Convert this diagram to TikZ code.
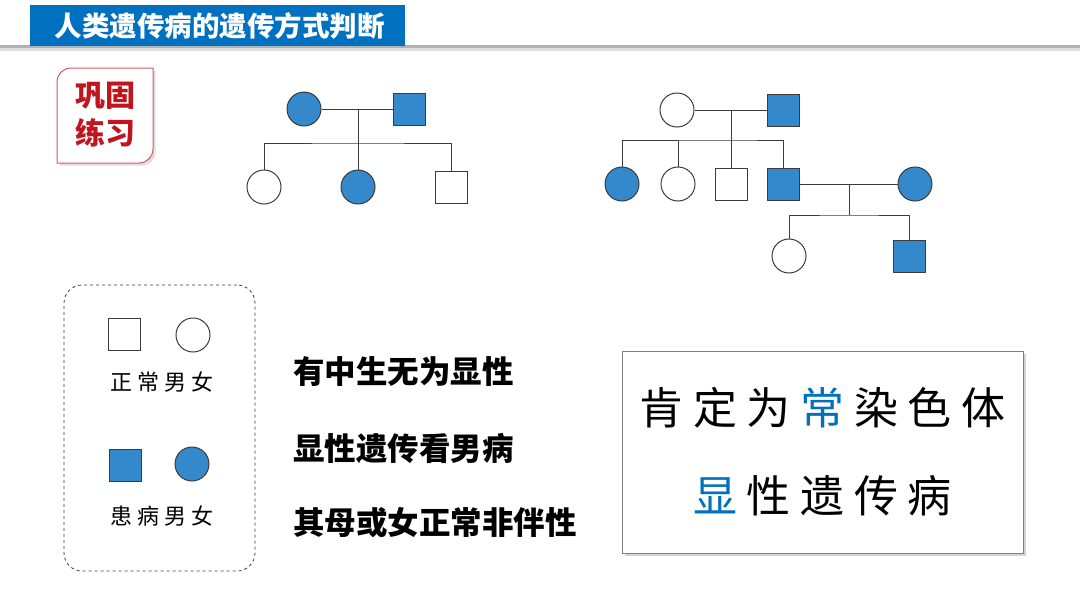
\documentclass[tikz,border=0pt]{standalone}
\usepackage{fontspec}
\setmainfont{Noto Sans CJK SC}
\newfontfamily\spacedfont[LetterSpace=22]{Noto Sans CJK SC}
\usepackage{xcolor}
\usepackage{tikz}
\usetikzlibrary{positioning, shadows}

\definecolor{titleblue}{RGB}{0,112,192}
\definecolor{illblue}{RGB}{52,136,204}
\definecolor{keyblue}{RGB}{0,112,192}
\definecolor{badgered}{RGB}{192,20,30}
\definecolor{linegray}{RGB}{60,60,60}

\newcommand{\gapch}{\hspace{0.22em}}

\begin{document}
\begin{tikzpicture}[
  x=1pt, y=-1pt,
  male/.style={draw=linegray, line width=1pt, minimum size=32pt, inner sep=0pt},
  female/.style={draw=linegray, line width=1pt, circle, minimum size=34pt, inner sep=0pt},
  ill/.style={fill=illblue},
  kin/.style={draw=linegray, line width=1pt},
  rule/.style={font=\fontsize{31.5}{36}\selectfont\bfseries, anchor=west, inner sep=0pt},
  legtxt/.style={font=\spacedfont\fontsize{22}{26}\selectfont, inner sep=0pt}
]
  \useasboundingbox (0,0) rectangle (1080,608);

  % title bar
  \fill[gray!25] (0,47) rectangle (1080,51);
  \fill[gray!60] (0,45) rectangle (1080,48);
  \fill[titleblue] (30,5) rectangle (405,46);
  \node[text=white, font=\fontsize{27.5}{30}\selectfont\bfseries, anchor=west] (title) at (51,26) {人类遗传病的遗传方式判断};

  % badge
  \draw[badgered!70, line width=1pt, fill=white, drop shadow={opacity=0.25}]
    (57,163) -- (57,82) arc[start angle=180, end angle=270, radius=14]
    -- (153,68) -- (153,149) arc[start angle=0, end angle=90, radius=14] -- cycle;
  \node[text=badgered, font=\fontsize{30}{38}\selectfont\bfseries, align=center] (badge) at (105,115) {巩固\\练习};

  % pedigree 1
  \node[female, ill] (p1mo) at (304,109) {};
  \node[male, ill] (p1fa) at (409,109) {};
  \node[female] (p1c1) at (264,187) {};
  \node[female, ill] (p1c2) at (358,187) {};
  \node[male] (p1c3) at (451,187) {};
  \coordinate (p1m) at (358,109);
  \coordinate (p1s) at (358,143);
  \draw[kin] (p1mo) -- (p1fa);
  \draw[kin] (p1m) -- (p1s);
  \draw[kin] (p1c1) |- (p1s) -| (p1c3);
  \draw[kin] (p1s) -- (p1c2);

  % pedigree 2
  \node[female] (p2mo) at (677,110) {};
  \node[male, ill] (p2fa) at (783,110) {};
  \node[female, ill] (p2c1) at (622,184) {};
  \node[female] (p2c2) at (678,184) {};
  \node[male] (p2c3) at (731,184) {};
  \node[male, ill] (p2c4) at (783,184) {};
  \node[female, ill] (p2wi) at (915,184) {};
  \node[female] (p2g1) at (789,256) {};
  \node[male, ill] (p2g2) at (909,256) {};
  \coordinate (p2m) at (731,110);
  \coordinate (p2s) at (731,140);
  \coordinate (p2m2) at (849,184);
  \coordinate (p2s2) at (849,215);
  \draw[kin] (p2mo) -- (p2fa);
  \draw[kin] (p2m) -- (p2s);
  \draw[kin] (p2c1) |- (p2s) -| (p2c4);
  \draw[kin] (p2c2) -- (p2c2 |- p2s);
  \draw[kin] (p2s) -- (p2c3);
  \draw[kin] (p2c4) -- (p2wi);
  \draw[kin] (p2m2) -- (p2s2);
  \draw[kin] (p2g1) |- (p2s2) -| (p2g2);

  % legend
  \node[draw=linegray, dashed, line width=0.8pt, rounded corners=18pt,
        minimum width=191pt, minimum height=286pt] (legend) at (159.5,428) {};
  \node[male] (lgm1) at (124,334) {};
  \node[female] (lgf1) at (193,335) {};
  \node[legtxt] (lgt1) at (162,382) {正常男女};
  \node[male, ill] (lgm2) at (125,465) {};
  \node[female, ill] (lgf2) at (192,464) {};
  \node[legtxt] (lgt2) at (162,516) {患病男女};

  % rules
  \node[rule] (r1) at (293,372) {有中生无为显性};
  \node[rule] (r2) at (293,448) {显性遗传看男病};
  \node[rule] (r3) at (293,523) {其母或女正常非伴性};

  % conclusion
  \node[draw=gray, fill=white, line width=0.8pt, drop shadow={opacity=0.35},
        minimum width=401pt, minimum height=202pt, align=center,
        font=\spacedfont\fontsize{44}{88}\selectfont] (concl) at (822.5,452)
        {肯定为\gapch{\color{keyblue}常}\gapch 染色体\\{\color{keyblue}显}\gapch 性遗传病};
\end{tikzpicture}
\end{document}
